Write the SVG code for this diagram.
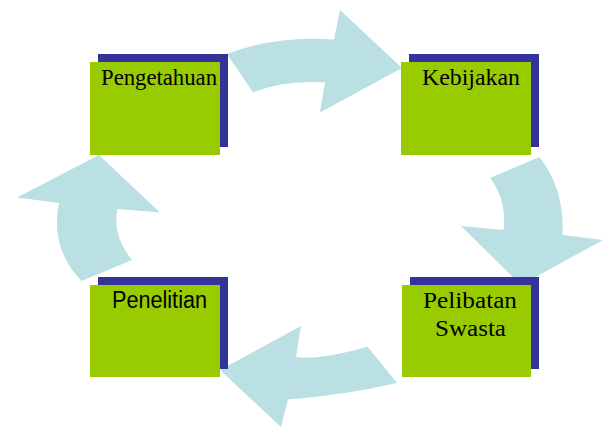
<svg xmlns="http://www.w3.org/2000/svg" width="603" height="427" viewBox="0 0 603 427">
<style>
.arrow{fill:#BAE0E4;stroke:none}
.back{fill:#333399}
.front{fill:#99CC00}
.serif{font-family:"Liberation Serif","Times New Roman",serif;font-size:24px;fill:#000}
.sans{font-family:"Liberation Sans",Arial,sans-serif;font-size:23px;fill:#000}
</style>
<rect width="603" height="427" fill="#fff"/>
<g id="connectors">
<path class="arrow" d="M227,54 Q276,35 334,39.5 L340,10 L402,68 L320,112.5 L325,82.5 Q285,79.6 253,92.5 Z"/>
<path class="arrow" d="M539.5,157 Q565,190 562.5,235 L603,240 L521,285 L461,226 L503.5,230 Q507,200 490,178 Z"/>
<path class="arrow" d="M367.5,346.5 L397,383 Q343.5,395.4 288,399.5 L281,427 L220,370 L301,326 L296,357 Q321.6,360.3 367.5,346.5 Z"/>
<path class="arrow" d="M99,155 L160,212.5 L117.5,209 Q111.9,235.5 132,260 L81.5,281 Q49.75,248 59,203 L17,197.5 Z"/>
</g>
<g id="node-pengetahuan">
<rect class="back" x="98" y="54" width="130" height="93"/>
<rect class="front" x="90" y="62" width="130" height="93"/>
<text class="serif" x="101" y="85" textLength="116" lengthAdjust="spacingAndGlyphs">Pengetahuan</text>
</g>
<g id="node-kebijakan">
<rect class="back" x="409" y="54" width="130" height="93"/>
<rect class="front" x="401" y="62" width="130" height="93"/>
<text class="serif" x="422" y="85" textLength="98" lengthAdjust="spacingAndGlyphs">Kebijakan</text>
</g>
<g id="node-pelibatan-swasta">
<rect class="back" x="410" y="277" width="129" height="92"/>
<rect class="front" x="402" y="285" width="129" height="92"/>
<text class="serif" x="423" y="308" textLength="94" lengthAdjust="spacingAndGlyphs">Pelibatan</text>
<text class="serif" x="435" y="336" textLength="71" lengthAdjust="spacingAndGlyphs">Swasta</text>
</g>
<g id="node-penelitian">
<rect class="back" x="98" y="277" width="130" height="92"/>
<rect class="front" x="90" y="285" width="130" height="92"/>
<text class="sans" x="112" y="308" textLength="95" lengthAdjust="spacingAndGlyphs">Penelitian</text>
</g>
</svg>
